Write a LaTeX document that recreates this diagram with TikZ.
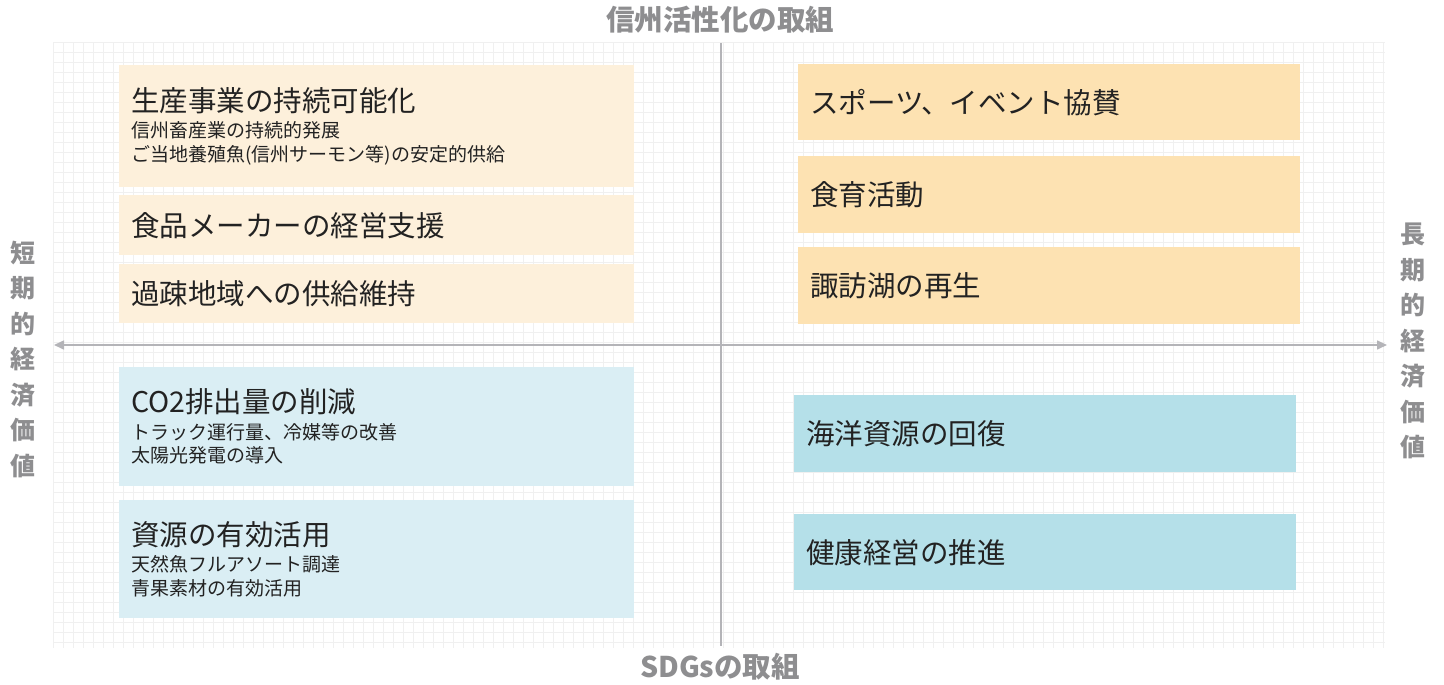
\documentclass[tikz,border=0pt]{standalone}
\usepackage{fontspec}
\setmainfont{Noto Sans CJK JP}
\usetikzlibrary{arrows.meta}
\definecolor{creamfill}{HTML}{FDF0DB}
\definecolor{wheatfill}{HTML}{FDE2B2}
\definecolor{paleblue}{HTML}{DAEEF4}
\definecolor{aquablue}{HTML}{B5E0E9}
\definecolor{gridgray}{HTML}{F0F0F0}
\definecolor{axisgray}{HTML}{B4B4B8}
\definecolor{titlegray}{HTML}{8E8E90}
\definecolor{textdark}{HTML}{222222}
\newcommand{\mainsize}{\fontsize{28.5}{32}\selectfont}
\newcommand{\subsize}{\fontsize{19}{24}\selectfont}
\tikzset{
  leftbox/.style={rectangle, anchor=north west, inner xsep=12pt, inner ysep=0pt,
    align=left, text width=491pt, minimum width=515pt, text=textdark},
  rightbox/.style={rectangle, anchor=north west, inner xsep=12pt, inner ysep=0pt,
    align=left, text width=478pt, minimum width=502pt, text=textdark},
  axistitle/.style={text=titlegray, font=\fontsize{28.5}{32}\selectfont\bfseries},
  sidetitle/.style={text=titlegray, align=center, font=\fontsize{25}{35.5}\selectfont\bfseries},
  axisline/.style={draw=axisgray, line width=1.6pt}
}
\begin{document}
\begin{tikzpicture}[x=1pt, y=-1pt]
  \useasboundingbox (0,0) rectangle (1444,685);

  % background grid
  \foreach \gx in {53,63,...,1383}
    \draw[gridgray, line width=0.9pt] (\gx,42) -- (\gx,648);
  \foreach \gy in {42,52,...,642}
    \draw[gridgray, line width=0.9pt] (53,\gy) -- (1385,\gy);

  % upper left
  \node[leftbox, fill=creamfill, minimum height=122pt] (production) at (119,65)
    {\mainsize 生産事業の持続可能化\\[2.5pt]
     \subsize 信州畜産業の持続的発展\\[5pt]
     ご当地養殖魚(信州サーモン等)の安定的供給};
  \node[leftbox, fill=creamfill, minimum height=60pt] (makers) at (119,195)
    {\mainsize 食品メーカーの経営支援};
  \node[leftbox, fill=creamfill, minimum height=59pt] (supply) at (119,264)
    {\mainsize 過疎地域への供給維持};

  % upper right
  \node[rightbox, fill=wheatfill, minimum height=76pt] (sports) at (798,64)
    {\mainsize スポーツ、イベント協賛};
  \node[rightbox, fill=wheatfill, minimum height=77pt] (foodedu) at (798,156)
    {\mainsize 食育活動};
  \node[rightbox, fill=wheatfill, minimum height=77pt] (suwa) at (798,247)
    {\mainsize 諏訪湖の再生};

  % lower left
  \node[leftbox, fill=paleblue, minimum height=119pt] (cotwo) at (119,367)
    {\mainsize CO2排出量の削減\\[2.5pt]
     \subsize トラック運行量、冷媒等の改善\\[5pt]
     太陽光発電の導入};
  \node[leftbox, fill=paleblue, minimum height=118pt] (resources) at (119,500)
    {\mainsize 資源の有効活用\\[2.5pt]
     \subsize 天然魚フルアソート調達\\[5pt]
     青果素材の有効活用};

  % lower right
  \node[rightbox, fill=aquablue, minimum height=77pt] (ocean) at (794,395)
    {\mainsize 海洋資源の回復};
  \node[rightbox, fill=aquablue, minimum height=76pt] (health) at (794,514)
    {\mainsize 健康経営の推進};

  % axes
  \coordinate (west) at (54,345);
  \coordinate (east) at (1387,345);
  \coordinate (north) at (721,43);
  \coordinate (south) at (721,646);
  \draw[axisline, {Triangle[length=10pt,width=9pt]}-{Triangle[length=10pt,width=9pt]}] (west) -- (east);
  \draw[axisline] (north) -- (south);

  % axis titles
  \node[axistitle] (regional) at (720,20) {信州活性化の取組};
  \node[axistitle] (sdgs) at (720,667) {SDGsの取組};
  \node[sidetitle] (shortterm) at (23,359) {短\\期\\的\\経\\済\\価\\値};
  \node[sidetitle] (longterm) at (1413,341) {長\\期\\的\\経\\済\\価\\値};
\end{tikzpicture}
\end{document}
